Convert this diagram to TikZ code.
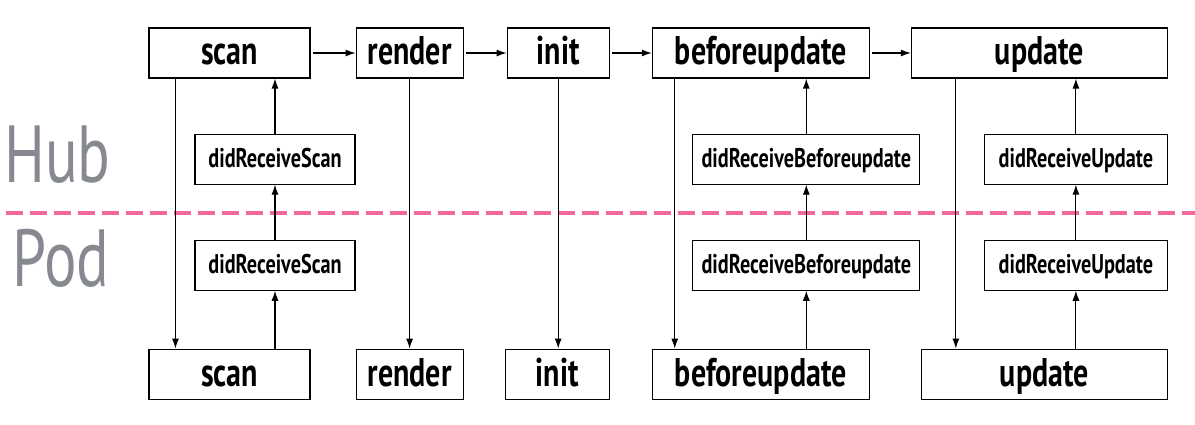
\documentclass[tikz,border=0pt]{standalone}
\usepackage{fontspec}
\newfontfamily\narrowfont[FakeStretch=0.75]{PT Sans}
\usetikzlibrary{positioning, arrows.meta}
\definecolor{sepclr} {RGB}{242,104,156}
\definecolor{sideclr}{RGB}{134,137,144}

\begin{document}
\begin{tikzpicture}[
    x=1pt, y=1pt,
    >={Latex[length=10pt, width=7pt]},
    stage/.style ={draw, line width=1.1pt, minimum height=50pt, inner sep=0pt,
                   text height=28pt, text depth=4pt,
                   font=\narrowfont\bfseries\fontsize{40}{40}\selectfont},
    rcv/.style   ={draw, line width=1.1pt, minimum height=50pt, inner sep=0pt,
                   text height=18pt, text depth=2pt,
                   font=\narrowfont\bfseries\fontsize{27}{27}\selectfont},
    side/.style  ={text=sideclr, anchor=base west, inner sep=0pt,
                   font=\narrowfont\fontsize{81}{81}\selectfont},
    flow/.style  ={->, line width=1.1pt},
    sep/.style   ={sepclr, line width=4pt, dash pattern=on 17pt off 7pt},
]
\useasboundingbox (0,0) rectangle (1195,424);

% =============== Hub / Pod separator ===============
\coordinate (sepL) at (6,211);
\coordinate (sepR) at (1195,211);
\draw[sep] (sepL) -- (sepR);

\node[side] (hub) at (4,242) {Hub};
\node[side] (pod) at (12,138) {Pod};

% =============== Hub stages (top) ===============
\node[stage, minimum width=161pt] (scanH) at (229.5,371) {scan};
\node[stage, minimum width=107pt, right=45pt of scanH]   (renderH) {render};
\node[stage, minimum width=102pt, right=43pt of renderH] (initH)   {init};
\node[stage, minimum width=217pt, right=42pt of initH]   (beforeH) {beforeupdate};
\node[stage, minimum width=256pt, right=41pt of beforeH] (updateH) {update};

% =============== Pod stages (bottom) ===============
\node[stage, minimum width=161pt, below=270pt of scanH]   (scanP)   {scan};
\node[stage, minimum width=107pt, below=270pt of renderH] (renderP) {render};
\node[stage, minimum width=104pt, below=270pt of initH, xshift=-1pt] (initP) {init};
\node[stage, minimum width=217pt, below=270pt of beforeH] (beforeP) {beforeupdate};
\node[stage, minimum width=246pt, below left=270pt and 0pt of updateH.south east] (updateP) {update};

% =============== didReceive callbacks ===============
\node[rcv, minimum width=160pt, below=55pt of scanH, xshift=45.5pt] (rcvScanH) {didReceiveScan};
\node[rcv, minimum width=160pt, below=55pt of rcvScanH] (rcvScanP) {didReceiveScan};
\node[rcv, minimum width=227pt, below=55pt of beforeH, xshift=45.5pt] (rcvBeforeH) {didReceiveBeforeupdate};
\node[rcv, minimum width=227pt, below=55pt of rcvBeforeH] (rcvBeforeP) {didReceiveBeforeupdate};
\node[rcv, minimum width=183pt, below=55pt of updateH, xshift=36.5pt] (rcvUpdateH) {didReceiveUpdate};
\node[rcv, minimum width=183pt, below=55pt of rcvUpdateH] (rcvUpdateP) {didReceiveUpdate};

% =============== Wires ===============
\draw[flow, shorten <=2pt] (scanH)   -- (renderH);
\draw[flow, shorten <=2pt] (renderH) -- (initH);
\draw[flow, shorten <=2pt] (initH)   -- (beforeH);
\draw[flow, shorten <=2pt] (beforeH) -- (updateH);

% hub -> pod
\draw[flow] ([xshift=27pt]scanH.south west) -- ([xshift=27pt]scanH.south west |- scanP.north);
\draw[flow] (renderH.south) -- (renderP.north);
\draw[flow] (initH.south) -- (initH.south |- initP.north);
\draw[flow] ([xshift=23pt]beforeH.south west) -- ([xshift=23pt]beforeH.south west |- beforeP.north);
\draw[flow] ([xshift=45pt]updateH.south west) -- ([xshift=45pt]updateH.south west |- updateP.north);

% pod -> hub through the callbacks
\foreach \s/\t in {Scan/scan, Before/before, Update/update}{%
  \draw[flow] (rcv\s P.south |- \t P.north) -- (rcv\s P.south);
  \draw[flow] (rcv\s P) -- (rcv\s H);
  \draw[flow] (rcv\s H) -- (rcv\s H.north |- \t H.south);
}

\end{tikzpicture}
\end{document}
